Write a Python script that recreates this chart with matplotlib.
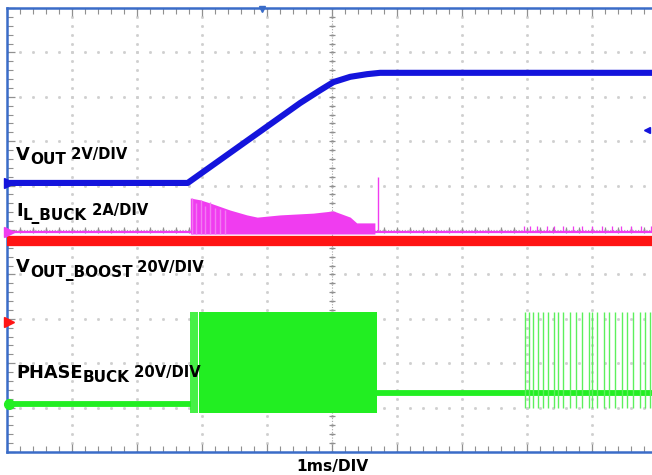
import numpy as np
import matplotlib
matplotlib.use("Agg")
import matplotlib.pyplot as plt
from matplotlib.transforms import offset_copy

# ---------------- data (time in ms = divisions, amplitude in divisions) ----------------
VOUT_t = [0, 2.78, 4.51, 4.82, 5.02, 5.28, 5.54, 5.74, 10]
VOUT_div = [6.06, 6.06, 7.86, 8.15, 8.33, 8.45, 8.51, 8.54, 8.54]

IL_base = 4.95
IL_env_t = [2.82, 2.97, 3.12, 3.43, 3.69, 3.85, 4.20, 4.71, 5.02, 5.28, 5.38, 5.66]
IL_env_top = [5.72, 5.68, 5.61, 5.45, 5.34, 5.29, 5.34, 5.38, 5.43, 5.29, 5.16, 5.16]
IL_env_bot = 4.91
IL_early_spikes_t = [2.84, 2.90, 2.98, 3.05, 3.12, 3.20, 3.28, 3.36]
IL_early_spikes_top = [5.72, 5.60, 5.68, 5.55, 5.62, 5.50, 5.48, 5.44]
IL_spike_t = 5.71
IL_spike_top = 6.19
IL_late_t = [7.95, 8.05, 8.15, 8.30, 8.42, 8.55, 8.70, 8.85, 9.00, 9.15, 9.30, 9.45, 9.60, 9.75, 9.90]
IL_late_top = 5.10

VBOOST_level = 4.75

PH_base_before = 1.08
PH_base_after = 1.33
PH_block_t = [2.95, 5.69]
PH_block_top = 3.15
PH_block_bot = 0.88
PH_edge_t = [2.83, 2.86, 2.89, 2.92]
PH_sparse_t = [7.97, 8.03, 8.09, 8.17, 8.25, 8.32, 8.42, 8.48, 8.55, 8.66, 8.75, 8.85,
               8.95, 9.00, 9.08, 9.18, 9.26, 9.35, 9.46, 9.54, 9.63, 9.74, 9.82, 9.89]
PH_sparse_top = 3.15
PH_sparse_bot = 0.99

marker_y = {"VOUT": 6.06, "IL": 4.95, "VBOOST": 2.93, "PHASE": 1.08}

# ---------------- figure ----------------
W, H = 652, 475
fig = plt.figure(figsize=(W / 100, H / 100), dpi=100)
ax = fig.add_axes([7 / W, 23 / H, 650 / W, 444 / H])
ax.set_xlim(0, 10)
ax.set_ylim(0, 10)

BLUE = "#1414dc"
MAG = "#f03cf0"
RED = "#ff1414"
GREEN = "#22ee22"
GRIDC = "#cfcfcf"

# grid dots
minor = np.arange(0, 10.001, 0.2)
for k in range(1, 10):
    ax.plot(np.full_like(minor, k), minor, ls="none", marker="s", ms=1.0, color=GRIDC, zorder=1)
    ax.plot(minor, np.full_like(minor, k), ls="none", marker="s", ms=1.0, color=GRIDC, zorder=1)
# center cross
ax.axvline(5, color="#a8a8a8", lw=0.8, ls=(0, (1, 1.5)), zorder=1)
ax.axhline(5, color="#a8a8a8", lw=0.8, ls=(0, (1, 1.5)), zorder=1)
ax.plot(np.full_like(minor, 5), minor, ls="none", marker="_", ms=5, mew=0.9, color="#909090", zorder=1)
ax.plot(minor, np.full_like(minor, 5), ls="none", marker="|", ms=5, mew=0.9, color="#909090", zorder=1)

# ticks on borders
ax.set_xticks(np.arange(0, 11, 1))
ax.set_yticks(np.arange(0, 11, 1))
ax.set_xticks(minor, minor=True)
ax.set_yticks(minor, minor=True)
ax.tick_params(which="both", direction="in", top=True, bottom=True, left=True, right=False,
               labelbottom=False, labelleft=False, color="#909090")
ax.tick_params(which="major", length=6, width=0.9)
ax.tick_params(which="minor", length=4, width=0.8)
for s in ax.spines.values():
    s.set_color("#3a6cc8")
    s.set_linewidth(1.8)

# ---------------- traces ----------------
# inductor current (magenta)
ax.plot([0, 10], [IL_base, IL_base], color=MAG, lw=1.6, zorder=3)
ax.fill_between(IL_env_t, IL_env_bot, IL_env_top, color=MAG, lw=0, zorder=3)
ax.vlines(IL_early_spikes_t, IL_env_bot, IL_early_spikes_top, color="#f27af2", lw=1.0, zorder=3)
ax.vlines([IL_spike_t], IL_base, IL_spike_top, color=MAG, lw=1.0, zorder=3)
ax.vlines(IL_late_t, IL_base, IL_late_top, color=MAG, lw=0.9, zorder=3)

# boost output (red)
ax.plot([0, 10], [VBOOST_level, VBOOST_level], color=RED, lw=7.4, solid_capstyle="butt", zorder=4)

# output voltage (blue)
ax.plot(VOUT_t, VOUT_div, color=BLUE, lw=4.4, solid_capstyle="butt", solid_joinstyle="round", zorder=5)

# phase node (green)
ax.plot([0, PH_edge_t[0]], [PH_base_before, PH_base_before], color=GREEN, lw=4.2, solid_capstyle="butt", zorder=3)
ax.plot([PH_block_t[1], 10], [PH_base_after, PH_base_after], color=GREEN, lw=4.2, solid_capstyle="butt", zorder=3)
ax.fill_between(PH_block_t, PH_block_bot, PH_block_top, color=GREEN, lw=0, zorder=3)
ax.vlines(PH_edge_t, PH_block_bot, PH_block_top, color=GREEN, lw=1.2, zorder=3)
ax.vlines(PH_sparse_t, PH_sparse_bot, PH_sparse_top, color="#5cf05c", lw=1.0, zorder=3)

# channel markers
ax.plot([0.03], [marker_y["VOUT"]], marker=">", ms=7, color=BLUE, clip_on=False, zorder=6)
ax.plot([0.03], [marker_y["IL"]], marker=">", ms=7, color=MAG, clip_on=False, zorder=6)
ax.plot([0.03], [marker_y["VBOOST"]], marker=">", ms=7, color=RED, clip_on=False, zorder=6)
ax.plot([0.03], [marker_y["PHASE"]], marker="o", ms=7, color=GREEN, clip_on=False, zorder=6)
ax.plot([9.85], [7.25], marker="<", ms=5, color=BLUE, clip_on=False, zorder=6)
ax.plot([3.92], [9.97], marker="v", ms=5, color="#3a6cc8", clip_on=False, zorder=6)

# ---------------- labels ----------------
renderer = fig.canvas.get_renderer()


def rich(x, y, parts):
    dx = 0.0
    for s, size, dy in parts:
        t = ax.text(x, y, s, fontsize=size, fontweight="bold", family="DejaVu Sans",
                    ha="left", va="baseline", color="black", zorder=7,
                    transform=offset_copy(ax.transData, fig=fig, x=dx, y=dy, units="dots"))
        dx += t.get_window_extent(renderer).width


def ydiv(px):
    return (452 - px) / 44.4


rich(0.14, ydiv(160), [("V", 12.8, 0), ("OUT", 11, -4), (" 2V/DIV", 10.6, 1)])
rich(0.14, ydiv(216), [("I", 12.8, 0), ("L_BUCK", 11, -4), (" 2A/DIV", 10.6, 1)])
rich(0.14, ydiv(272), [("V", 12.8, 0), ("OUT_BOOST", 11, -5), (" 20V/DIV", 10.6, 0)])
rich(0.14, ydiv(378), [("PHASE", 12.8, 0), ("BUCK", 11, -4), (" 20V/DIV", 10.6, 1)])

ax.text(5.0, ydiv(471), "1ms/DIV", fontsize=11.2, fontweight="bold", family="DejaVu Sans",
        ha="center", va="baseline", clip_on=False)

fig.savefig("out.png", dpi=100)
